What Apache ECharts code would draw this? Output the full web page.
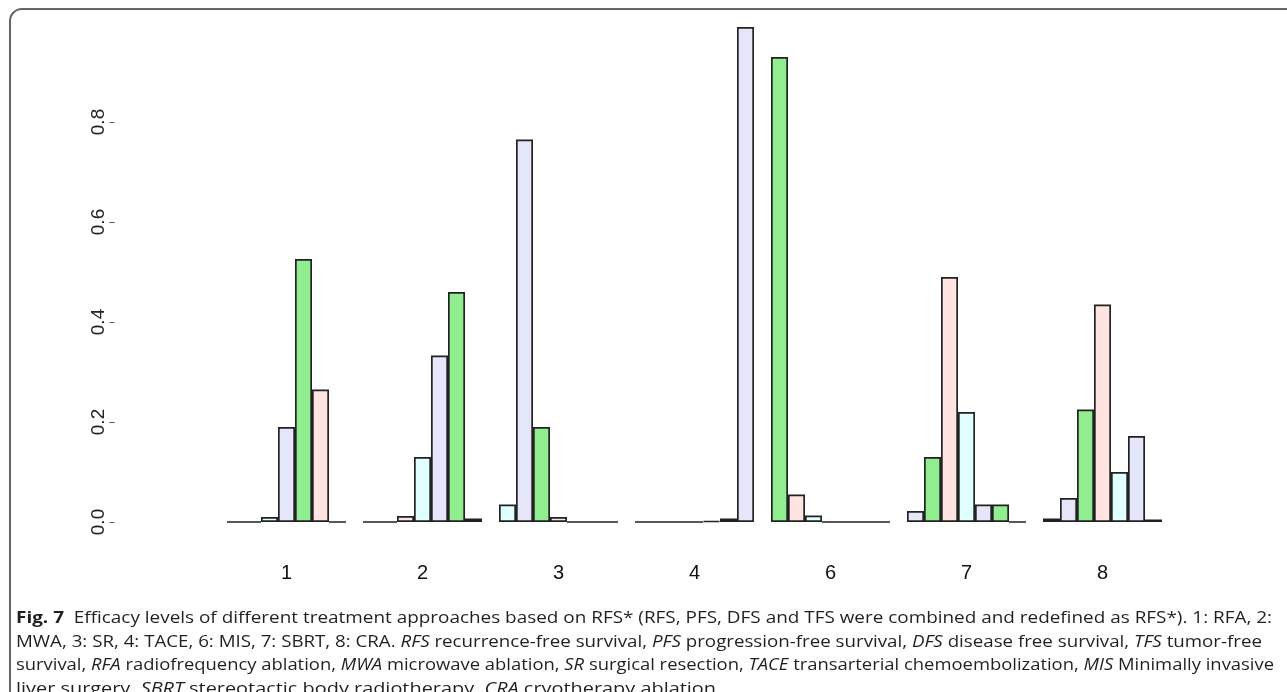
<!DOCTYPE html>
<html>
<head>
<meta charset="utf-8">
<script src="https://cdn.jsdelivr.net/npm/echarts@6/dist/echarts.min.js"></script>
<style>
html, body { margin: 0; padding: 0; background: #fff; }
#chart { width: 1287px; height: 692px; position: absolute; left: 0; top: 0; }
#caption { position: absolute; left: 16px; top: 606px; font-family: "Open Sans"; font-size: 16px; line-height: 23.5px; color: #231f20; }
#caption .ln { white-space: nowrap; width: max-content; transform-origin: 0 0; }
</style>
</head>
<body>
<div id="chart"></div>
<div id="caption">
  <div class="ln" data-w="1256"><b>Fig. 7</b>&nbsp; Efficacy levels of different treatment approaches based on RFS* (RFS, PFS, DFS and TFS were combined and redefined as RFS*). 1: RFA, 2:</div>
  <div class="ln" data-w="1246">MWA, 3: SR, 4: TACE, 6: MIS, 7: SBRT, 8: CRA. <i>RFS</i> recurrence-free survival, <i>PFS</i> progression-free survival, <i>DFS</i> disease free survival, <i>TFS</i> tumor-free</div>
  <div class="ln" data-w="1258">survival, <i>RFA</i> radiofrequency ablation, <i>MWA</i> microwave ablation, <i>SR</i> surgical resection, <i>TACE</i> transarterial chemoembolization, <i>MIS</i> Minimally invasive</div>
  <div class="ln" data-w="700">liver surgery, <i>SBRT</i> stereotactic body radiotherapy, <i>CRA</i> cryotherapy ablation</div>
</div>
<script>
// groups on the x axis (treatment codes)
var categories = ['1', '2', '3', '4', '6', '7', '8'];
// bar heights, one array per position inside a group
var pos1 = [0, 0, 0.035, 0, 0.93, 0.022, 0.007];
var pos2 = [0, 0, 0.765, 0, 0.055, 0.13, 0.048];
var pos3 = [0.01, 0.012, 0.19, 0, 0.013, 0.49, 0.225];
var pos4 = [0.19, 0.13, 0.01, 0, 0, 0.22, 0.435];
var pos5 = [0.526, 0.333, 0, 0.002, 0, 0.035, 0.1];
var pos6 = [0.265, 0.46, 0, 0.007, 0, 0.035, 0.172];
var pos7 = [0, 0.007, 0, 0.99, 0, 0, 0.005];
var yTicks = [0, 0.2, 0.4, 0.6, 0.8];

// colours recycle over all bars like R's barplot
var palette = ['#90EE90', '#FFE4E1', '#E0FFFF', '#E6E6FA'];
var rows = [pos1, pos2, pos3, pos4, pos5, pos6, pos7];

var series = rows.map(function (vals, si) {
  return {
    type: 'bar',
    data: vals,
    barGap: '0%',
    barCategoryGap: '12.5%',
    itemStyle: {
      color: function (p) { return palette[(p.dataIndex * 7 + si) % 4]; },
      borderColor: '#222',
      borderWidth: 1.7
    },
    emphasis: { disabled: true }
  };
});

var myChart = echarts.init(document.getElementById('chart'));
myChart.setOption({
  animation: false,
  grid: { left: 218.5, right: 116.5, top: 22, bottom: 170 },
  xAxis: {
    type: 'category',
    data: categories,
    axisLine: { show: false },
    axisTick: { show: false },
    axisLabel: { fontFamily: 'Liberation Sans', fontSize: 20, color: '#111', margin: 41 }
  },
  yAxis: {
    type: 'value',
    min: 0,
    max: 1,
    interval: 0.2,
    offset: 104,
    splitLine: { show: false },
    axisLine: { show: false },
    axisTick: { show: true, length: 5, customValues: yTicks, lineStyle: { color: '#555', width: 1 } },
    axisLabel: {
      customValues: yTicks,
      rotate: 90,
      margin: 6,
      fontFamily: 'Liberation Sans',
      fontSize: 19,
      color: '#222',
      formatter: function (v) { return v.toFixed(1); }
    }
  },
  graphic: [{
    type: 'rect',
    shape: { x: 10, y: 9, width: 1300, height: 720, r: 12 },
    style: { fill: 'none', stroke: '#666', lineWidth: 2 },
    silent: true
  }],
  series: series
});

// squeeze caption lines to the measured widths
document.querySelectorAll('#caption .ln').forEach(function (el) {
  var w = el.getBoundingClientRect().width;
  var target = +el.getAttribute('data-w');
  el.style.transform = 'scaleX(' + (target / w) + ')';
});
</script>
</body>
</html>
